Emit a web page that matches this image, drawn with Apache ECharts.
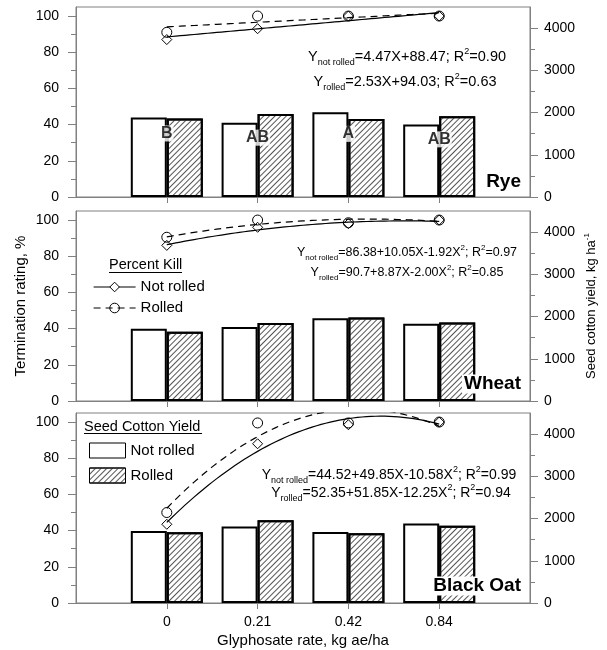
<!DOCTYPE html>
<html><head><meta charset="utf-8">
<script src="https://cdn.jsdelivr.net/npm/echarts@6/dist/echarts.min.js"></script>
<style>html,body{margin:0;padding:0;background:#fff}#c{width:607px;height:650px}</style>
</head><body><div id="c"></div>
<script>
// ---------- data ----------
const categories = ['0', '0.21', '0.42', '0.84'];
const panelNames = ['Rye', 'Wheat', 'Black Oat'];

// Termination rating, % (markers)
const ryeKillNotRolled   = [87, 93, 100, 100];
const ryeKillRolled      = [91, 100, 100, 100];
const wheatKillNotRolled = [86, 96, 98, 100];
const wheatKillRolled    = [90.5, 100, 98.5, 100];
const oatKillNotRolled   = [43.5, 88, 98.5, 100];
const oatKillRolled      = [50, 99.5, 99.5, 100];

// Seed cotton yield, kg/ha (bars)
const ryeYieldNotRolled   = [1880, 1760, 2005, 1720];
const ryeYieldRolled      = [1860, 1965, 1850, 1910];
const wheatYieldNotRolled = [1710, 1750, 1960, 1830];
const wheatYieldRolled    = [1640, 1850, 1980, 1860];
const oatYieldNotRolled   = [1705, 1810, 1680, 1880];
const oatYieldRolled      = [1675, 1960, 1650, 1830];

// mean separation letters (rye)
const ryeLetters = ['B', 'AB', 'A', 'AB'];

// regression coefficients [c0, c1, c2]: Y = c0 + c1*X + c2*X^2, X = rate index 0..3
const ryeFitNotRolled   = [88.47, 4.47, 0];
const ryeFitRolled      = [94.03, 2.53, 0];
const wheatFitNotRolled = [86.38, 10.05, -1.92];
const wheatFitRolled    = [90.7, 8.87, -2.00];
const oatFitNotRolled   = [44.52, 49.85, -10.58];
const oatFitRolled      = [52.35, 51.85, -12.25];

const ryeEquations   = [['not rolled', '=4.47X+88.47; R', '=0.90', ''], ['rolled', '=2.53X+94.03; R', '=0.63', '']];
const wheatEquations = [['not rolled', '=86.38+10.05X-1.92X', '; R', '=0.97'], ['rolled', '=90.7+8.87X-2.00X', '; R', '=0.85']];
const oatEquations   = [['not rolled', '=44.52+49.85X-10.58X', '; R', '=0.99'], ['rolled', '=52.35+51.85X-12.25X', '; R', '=0.94']];

// axis ticks
const leftTicks       = [0, 20, 40, 60, 80, 100];
const leftMinorTicks  = [10, 30, 50, 70, 90];
const rightTicks      = [0, 1000, 2000, 3000, 4000];
const rightMinorTicks = [500, 1500, 2500, 3500];

// ---------- style ----------
const GRAY = '#808080';
const FONT = '"Liberation Sans", Arial, sans-serif';
const DIAMOND = 'path://M0,-1L1,0L0,1L-1,0Z';
const HATCH = { symbol: 'rect', symbolSize: 1, color: '#555', dashArrayX: [1, 0], dashArrayY: [1, 3], rotation: -Math.PI / 4 };

const panels = [
  { top: 7,   kNR: ryeKillNotRolled,   kR: ryeKillRolled,   yNR: ryeYieldNotRolled,   yR: ryeYieldRolled,   fNR: ryeFitNotRolled,   fR: ryeFitRolled,   eq: ryeEquations,   eqPos: [[407, 57], [405, 82]], eqFont: 14.5, subFont: 9, nameY: 182 },
  { top: 211, kNR: wheatKillNotRolled, kR: wheatKillRolled, yNR: wheatYieldNotRolled, yR: wheatYieldRolled, fNR: wheatFitNotRolled, fR: wheatFitRolled, eq: wheatEquations, eqPos: [[407, 253], [407, 273]], eqFont: 12.5, subFont: 8, nameY: 384 },
  { top: 413, kNR: oatKillNotRolled,   kR: oatKillRolled,   yNR: oatYieldNotRolled,   yR: oatYieldRolled,   fNR: oatFitNotRolled,   fR: oatFitRolled,   eq: oatEquations,   eqPos: [[389, 475], [391, 493]], eqFont: 14, subFont: 9, nameY: 586 }
];

function fitCurve(c) {
  const pts = [];
  for (let k = 0; k <= 60; k++) {
    const X = 3 * k / 60;
    pts.push([X + 1, c[0] + c[1] * X + c[2] * X * X]);
  }
  return pts;
}
function padded(arr) { return [null].concat(arr, [null]); }

const grid = [], xAxis = [], yAxis = [], series = [], graphic = [];

panels.forEach((p, i) => {
  grid.push({ left: 76, right: 77, top: p.top, height: 190, show: true, borderColor: GRAY, borderWidth: 1, backgroundColor: 'transparent', outerBoundsMode: 'none' });

  xAxis.push({
    type: 'category', gridIndex: i, data: [''].concat(categories, ['']), boundaryGap: false,
    axisLine: { show: true, onZero: false, lineStyle: { color: GRAY, width: 1 } },
    axisTick: { show: true, length: 6, interval: (idx) => idx > 0 && idx < 5, lineStyle: { color: GRAY } },
    axisLabel: { show: i === 2, interval: 0, margin: 12, fontSize: 14, color: '#000', fontFamily: FONT },
    splitLine: { show: false },
    name: i === 2 ? 'Glyphosate rate, kg ae/ha' : '', nameLocation: 'middle', nameGap: 30, nameMoveOverlap: false,
    nameTextStyle: { fontSize: 15, color: '#000', fontFamily: FONT }
  });
  xAxis.push({ type: 'value', gridIndex: i, min: 0, max: 5, show: false });

  const base = {
    type: 'value', gridIndex: i, splitLine: { show: false }, nameMoveOverlap: false
  };
  // left major
  yAxis.push(Object.assign({}, base, {
    position: 'left', min: 0, max: 105, interval: 20,
    axisLine: { show: true, lineStyle: { color: GRAY, width: 1 } },
    axisTick: { show: true, length: 8, customValues: leftTicks, lineStyle: { color: GRAY } },
    axisLabel: { customValues: leftTicks, margin: 17, fontSize: 14, color: '#000', fontFamily: FONT, formatter: v => (v > 100 ? '' : v) },
    name: i === 1 ? 'Termination rating, %' : '', nameLocation: 'middle', nameGap: 48,
    nameTextStyle: { fontSize: 15, color: '#000', fontFamily: FONT }
  }));
  // left minor
  yAxis.push(Object.assign({}, base, {
    position: 'left', min: 0, max: 105,
    axisLine: { show: false },
    axisTick: { show: true, length: 5, customValues: leftMinorTicks, lineStyle: { color: GRAY } },
    axisLabel: { show: false }
  }));
  // right major
  yAxis.push(Object.assign({}, base, {
    position: 'right', min: 0, max: 4500, interval: 1000,
    axisLine: { show: true, lineStyle: { color: GRAY, width: 1 } },
    axisTick: { show: true, length: 8, customValues: rightTicks, lineStyle: { color: GRAY } },
    axisLabel: { customValues: rightTicks, margin: 14, fontSize: 14, color: '#000', fontFamily: FONT, formatter: v => (v > 4000 ? '' : v) },
    name: i === 1 ? '{n|Seed cotton yield, kg ha}{p|-1}' : '', nameLocation: 'middle', nameGap: 53, nameRotate: 90,
    nameTextStyle: { fontSize: 13, color: '#000', fontFamily: FONT,
      rich: { n: { fontSize: 13, lineHeight: 16, fontFamily: FONT, color: '#000' }, p: { fontSize: 8, lineHeight: 14, verticalAlign: 'top', fontFamily: FONT, color: '#000' } } }
  }));
  // right minor
  yAxis.push(Object.assign({}, base, {
    position: 'right', min: 0, max: 4500,
    axisLine: { show: false },
    axisTick: { show: true, length: 5, customValues: rightMinorTicks, lineStyle: { color: GRAY } },
    axisLabel: { show: false }
  }));

  const xc = 2 * i, xv = 2 * i + 1, yl = 4 * i, yr = 4 * i + 2;

  series.push({
    type: 'bar', name: 'Yield: Not rolled', xAxisIndex: xc, yAxisIndex: yr, data: padded(p.yNR),
    barWidth: 36, barGap: '0%', z: 2, silent: true,
    itemStyle: { color: '#fff', borderColor: '#000', borderWidth: 2 }
  });
  series.push({
    type: 'bar', name: 'Yield: Rolled', xAxisIndex: xc, yAxisIndex: yr, data: padded(p.yR),
    barWidth: 36, barGap: '0%', z: 2, silent: true,
    itemStyle: { color: '#fff', borderColor: '#000', borderWidth: 2, decal: HATCH }
  });
  series.push({
    type: 'line', name: 'Kill: Not rolled', xAxisIndex: xv, yAxisIndex: yl, data: fitCurve(p.fNR),
    symbol: DIAMOND, showSymbol: false, clip: true, z: 3, silent: true,
    lineStyle: { color: '#000', width: 1.2, type: 'solid' },
    itemStyle: { color: '#fff', borderColor: '#000', borderWidth: 1 }
  });
  series.push({
    type: 'line', name: 'Kill: Rolled', xAxisIndex: xv, yAxisIndex: yl, data: fitCurve(p.fR),
    symbol: 'circle', showSymbol: false, clip: true, z: 3, silent: true,
    lineStyle: { color: '#000', width: 1.2, type: [7, 5] },
    itemStyle: { color: 'rgba(255,255,255,0)', borderColor: '#000', borderWidth: 1 }
  });
  series.push({
    type: 'scatter', name: 'pts nr ' + i, xAxisIndex: xc, yAxisIndex: yl,
    data: categories.map((c, k) => [c, p.kNR[k]]), symbol: DIAMOND, symbolSize: 10, z: 4, silent: true,
    itemStyle: { color: 'rgba(255,255,255,0)', borderColor: '#000', borderWidth: 1, opacity: 1 }
  });
  series.push({
    type: 'scatter', name: 'pts r ' + i, xAxisIndex: xc, yAxisIndex: yl,
    data: categories.map((c, k) => [c, p.kR[k]]), symbol: 'circle', symbolSize: 10, z: 4, silent: true,
    itemStyle: { color: 'rgba(255,255,255,0)', borderColor: '#000', borderWidth: 1, opacity: 1 }
  });

  // equations
  p.eq.forEach((e, j) => {
    const fs = p.eqFont, ss = p.subFont;
    const sup = '{p|2}';
    let text;
    if (e[3] === '') text = '{m|Y}{s|' + e[0] + '}{m|' + e[1] + '}' + sup + '{m|' + e[2] + '}';
    else text = '{m|Y}{s|' + e[0] + '}{m|' + e[1] + '}' + sup + '{m|' + e[2] + '}' + sup + '{m|' + e[3] + '}';
    graphic.push({
      type: 'text', x: p.eqPos[j][0], y: p.eqPos[j][1], silent: true, z: 100,
      style: {
        text: text, align: 'center', verticalAlign: 'middle',
        rich: {
          m: { fontSize: fs, lineHeight: fs + 6, fontFamily: FONT, fill: '#000', color: '#000' },
          s: { fontSize: ss, lineHeight: ss, verticalAlign: 'bottom', fontFamily: FONT, fill: '#000', color: '#000' },
          p: { fontSize: ss, lineHeight: fs + 1, verticalAlign: 'top', fontFamily: FONT, fill: '#000', color: '#000' }
        }
      }
    });
  });

  graphic.push({
    type: 'text', x: 522, y: p.nameY, silent: true, z: 100,
    style: { text: panelNames[i], align: 'right', verticalAlign: 'middle', font: 'bold 19px ' + FONT, fill: '#000', backgroundColor: '#fff', padding: [0, 1, 0, 2] }
  });
});

// letters for rye bars
series.push({
  type: 'scatter', name: 'letters', xAxisIndex: 0, yAxisIndex: 2,
  data: categories.map((c, k) => [c, Math.min(ryeYieldNotRolled[k], ryeYieldRolled[k])]),
  symbol: 'circle', symbolSize: 1, z: 6, silent: true,
  itemStyle: { color: 'rgba(0,0,0,0)' },
  label: {
    show: true, position: 'inside', offset: [0, 15], formatter: (q) => ryeLetters[q.dataIndex],
    fontSize: 16, fontWeight: 'bold', color: '#000', fontFamily: FONT, backgroundColor: '#fff', padding: [0, 1, 0, 1]
  }
});

// legend titles and underlines
graphic.push({ type: 'text', x: 109, y: 265, silent: true, z: 100, style: { text: 'Percent Kill', align: 'left', verticalAlign: 'middle', font: '14.5px ' + FONT, fill: '#000' } });
graphic.push({ type: 'line', silent: true, z: 100, shape: { x1: 109, y1: 272.5, x2: 182, y2: 272.5 }, style: { stroke: '#000', lineWidth: 1 } });
graphic.push({ type: 'text', x: 84, y: 427, silent: true, z: 100, style: { text: 'Seed Cotton Yield', align: 'left', verticalAlign: 'middle', font: '14.5px ' + FONT, fill: '#000' } });
graphic.push({ type: 'line', silent: true, z: 100, shape: { x1: 84, y1: 433.5, x2: 202, y2: 433.5 }, style: { stroke: '#000', lineWidth: 1 } });

const legend = [
  {
    orient: 'vertical', left: 88, top: 274.5, itemWidth: 42, itemHeight: 12, itemGap: 6, selectedMode: false,
    formatter: n => n.replace('Kill: ', ''),
    textStyle: { fontSize: 15, color: '#000', fontFamily: FONT },
    data: [
      { name: 'Kill: Not rolled', itemStyle: { color: '#fff', borderColor: '#000', borderWidth: 1 }, lineStyle: { color: '#000', width: 1.2, type: 'solid' } },
      { name: 'Kill: Rolled', itemStyle: { color: 'rgba(255,255,255,0)', borderColor: '#000', borderWidth: 1 }, lineStyle: { color: '#000', width: 1.2, type: [7, 5] } }
    ]
  },
  {
    orient: 'vertical', left: 84, top: 437.5, itemWidth: 36, itemHeight: 15, itemGap: 9, selectedMode: false, icon: 'rect',
    formatter: n => n.replace('Yield: ', ''),
    textStyle: { fontSize: 15, color: '#000', fontFamily: FONT },
    data: [
      { name: 'Yield: Not rolled', itemStyle: { color: '#fff', borderColor: '#000', borderWidth: 1 } },
      { name: 'Yield: Rolled', itemStyle: { color: '#fff', borderColor: '#000', borderWidth: 1 } }
    ]
  }
];

const chart = echarts.init(document.getElementById('c'), null, { renderer: 'canvas' });
chart.setOption({
  animation: false,
  backgroundColor: '#fff',
  textStyle: { fontFamily: FONT },
  grid, xAxis, yAxis, series, legend, graphic,
  tooltip: { show: false }
});
</script></body></html>
